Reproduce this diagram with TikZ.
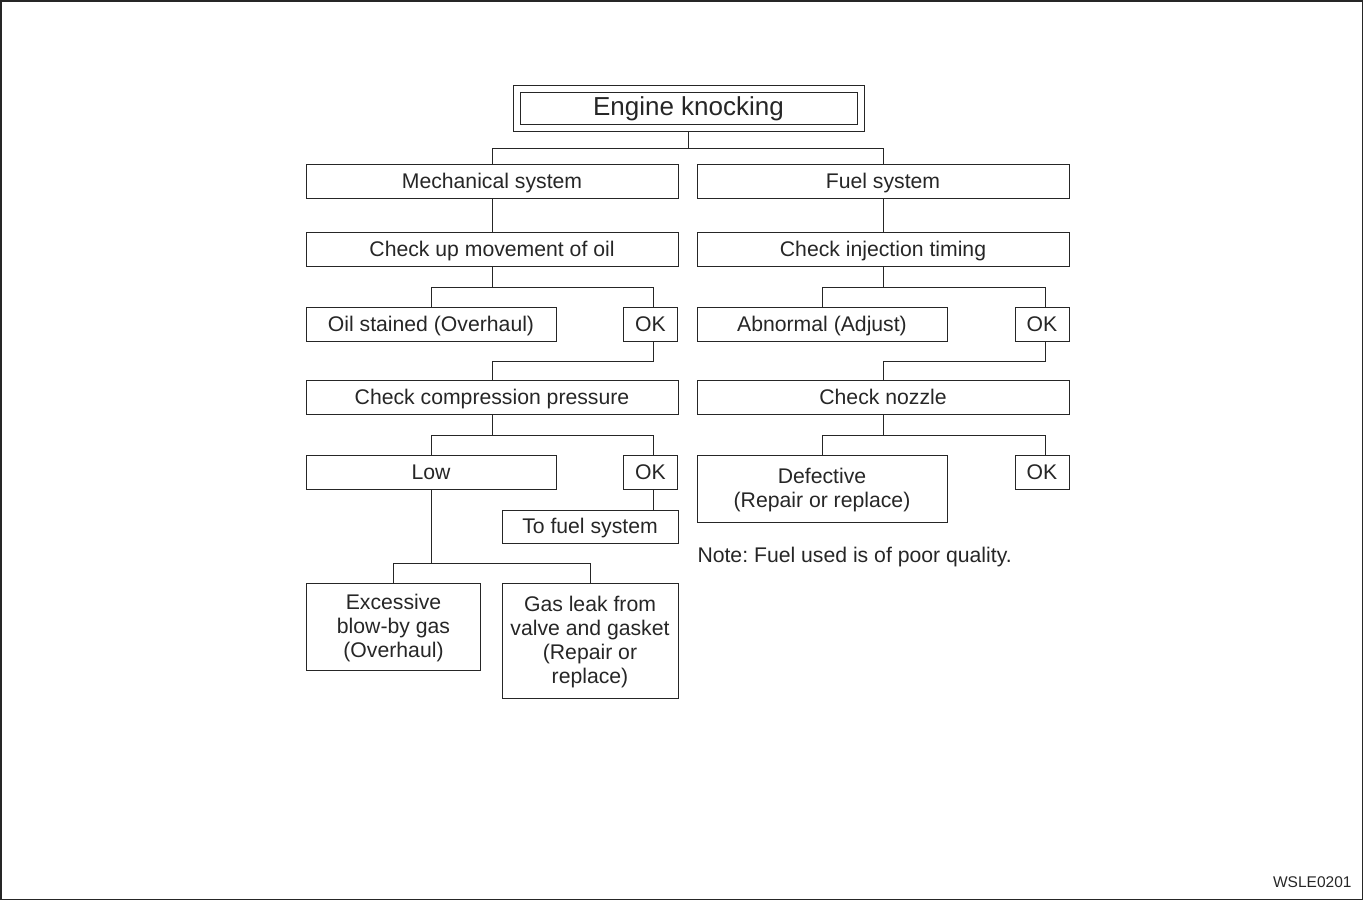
\documentclass[tikz,border=0pt]{standalone}
\usepackage{fontspec}
\setmainfont{Liberation Sans}
\usetikzlibrary{positioning}
\frenchspacing

\begin{document}
\begin{tikzpicture}[x=1pt,y=-1pt,line width=1pt,
    box/.style={draw=black!85,text=black!85,inner sep=0pt,align=center,
        minimum height=34pt,text height=16pt,text depth=2pt,font=\fontsize{21.2}{24}\selectfont},
    widebox/.style={box,minimum width=372pt},
    halfbox/.style={box,minimum width=250pt},
    okbox/.style={box,minimum width=54pt},
    link/.style={draw=black!85,line width=1pt}]

    % Page frame
    \useasboundingbox (0,0) rectangle (1363,900);
    \draw [black!85,line width=1.5pt] (0.75,0.75) rectangle (1362.25,899.25);

    % Top
    \node [box,double,double distance=6pt,outer sep=4pt,minimum width=344pt,minimum height=39pt,
        text height=19pt,text depth=5pt,font=\fontsize{26}{30}\selectfont] (knock) at (688.5,108) {Engine knocking};

    % Mechanical branch
    \node [widebox] (mech) at (492,181) {Mechanical system};
    \node [widebox] (chkoil) at (492,249) {Check up movement of oil};
    \node [halfbox] (oilst) at (431,324) {Oil stained (Overhaul)};
    \node [okbox] (okoil) at (650.5,324) {OK};
    \node [widebox] (chkcomp) at (492,397) {Check compression pressure};
    \node [halfbox] (low) at (431,472) {Low};
    \node [okbox] (okcomp) at (650.5,472) {OK};
    \node [box,minimum width=176pt,minimum height=33pt] (tofuel) at (590,526.5) {To fuel system};
    \node [box,minimum width=174pt,minimum height=87pt,text height=64pt] (blowby) at (393.5,626.5) {Excessive\\blow-by gas\\(Overhaul)};
    \node [box,minimum width=176pt,minimum height=115pt,text height=88pt] (gasleak) at (590,640.5) {Gas leak from\\valve and gasket\\(Repair or\\replace)};

    % Fuel branch
    \node [widebox] (fuel) at (883,181) {Fuel system};
    \node [widebox] (chkinj) at (883,249) {Check injection timing};
    \node [halfbox] (abnorm) at (822,324) {Abnormal (Adjust)};
    \node [okbox] (okinj) at (1042,324) {OK};
    \node [widebox] (chknoz) at (883,397) {Check nozzle};
    \node [halfbox,minimum height=67pt,text height=40pt] (defect) at (822,488.5) {Defective\\(Repair or replace)};
    \node [okbox] (oknoz) at (1042,472) {OK};

    \node [anchor=base west,inner sep=0pt,text=black!85,font=\fontsize{21.2}{24}\selectfont] (note) at (697,562) {Note: Fuel used is of poor quality.};
    \node [anchor=base east,inner sep=0pt,text=black!85,font=\fontsize{15.5}{18}\selectfont] (code) at (1352,887) {WSLE0201};

    % Connectors
    \draw [link] (knock.south) -- ++(0,16.5) -| (mech.north);
    \draw [link] (knock.south) ++(0,16.5) -| (fuel.north);

    \draw [link] (mech) -- (chkoil);
    \draw [link] (chkoil.south) -- ++(0,20.5) -| (oilst.north);
    \draw [link] (chkoil.south) ++(0,20.5) -| ([xshift=3pt]okoil.north);
    \draw [link] ([xshift=3pt]okoil.south) -- ++(0,19.5) -| (chkcomp.north);
    \draw [link] (chkcomp.south) -- ++(0,20.5) -| (low.north);
    \draw [link] (chkcomp.south) ++(0,20.5) -| ([xshift=3pt]okcomp.north);
    \draw [link] ([xshift=3pt]okcomp.south) -- ([xshift=3pt]tofuel.north -| okcomp);
    \draw [link] (low.south) -- ++(0,73.5) -| (blowby.north);
    \draw [link] (low.south) ++(0,73.5) -| (gasleak.north);

    \draw [link] (fuel) -- (chkinj);
    \draw [link] (chkinj.south) -- ++(0,20.5) -| (abnorm.north);
    \draw [link] (chkinj.south) ++(0,20.5) -| ([xshift=3pt]okinj.north);
    \draw [link] ([xshift=3pt]okinj.south) -- ++(0,19.5) -| (chknoz.north);
    \draw [link] (chknoz.south) -- ++(0,20.5) -| (defect.north);
    \draw [link] (chknoz.south) ++(0,20.5) -| ([xshift=3pt]oknoz.north);

\end{tikzpicture}
\end{document}
